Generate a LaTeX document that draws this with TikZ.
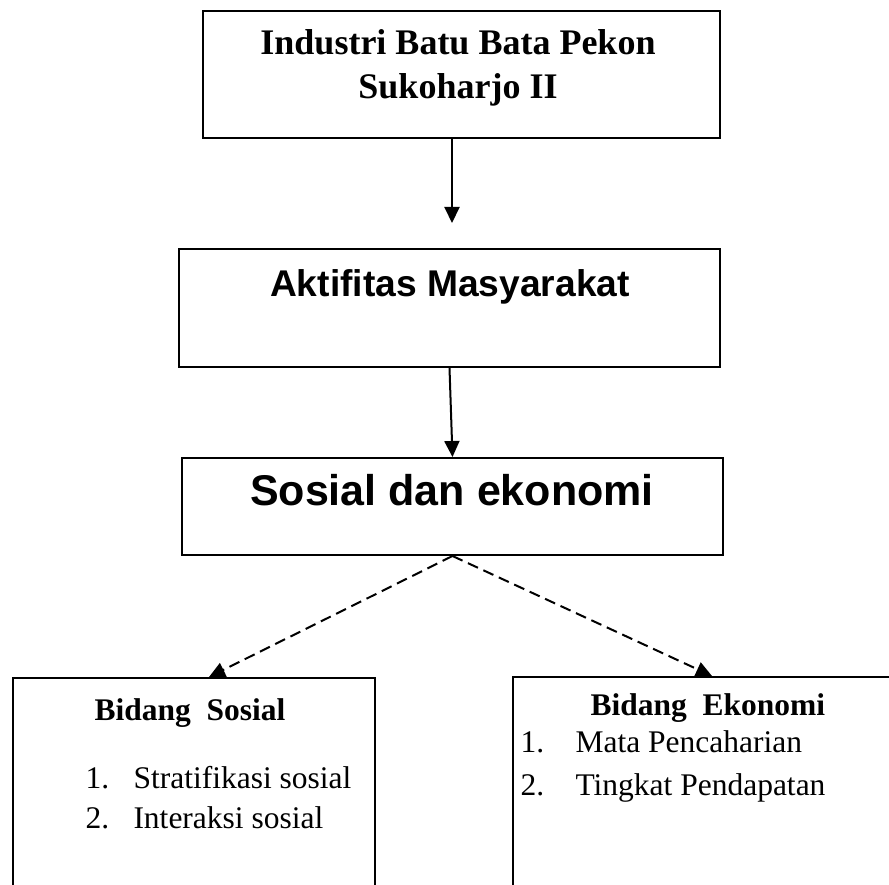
\documentclass[tikz,border=0pt]{standalone}
\usepackage{fontspec}
\setmainfont{Liberation Serif}
\newfontfamily\arialfont{Liberation Sans}
\usetikzlibrary{arrows.meta}

\tikzset{
  box/.style={draw, line width=2pt, inner sep=0pt},
  flow/.style={line width=2pt, -{Triangle[width=15pt,length=16pt]}},
  split/.style={flow, dash pattern=on 11pt off 6pt}
}

\begin{document}
\begin{tikzpicture}[x=1pt,y=-1pt]
\useasboundingbox (0,0) rectangle (889,885);
\clip (0,0) rectangle (889,885);

\node[box, minimum width=517pt, minimum height=127pt] (industry) at (461.5,74.5) {};
\node[box, minimum width=541pt, minimum height=118pt] (activity) at (449.5,308) {};
\node[box, minimum width=541pt, minimum height=97pt] (socioeco) at (452.5,506.5) {};
\node[box, minimum width=362pt, minimum height=242pt] (social) at (194,799) {};
\node[box, minimum width=398pt, minimum height=243pt] (economy) at (712,798.5) {};

% titles
\node[anchor=base, font=\fontsize{36}{42}\selectfont\bfseries] (industryA) at (458,55) {Industri Batu Bata Pekon};
\node[anchor=base, font=\fontsize{36}{42}\selectfont\bfseries] (industryB) at (458,99) {Sukoharjo II};
\node[anchor=base, font=\arialfont\fontsize{37.2}{42}\selectfont\bfseries] (activityT) at (450,297) {Aktifitas Masyarakat};
\node[anchor=base, font=\arialfont\fontsize{43}{48}\selectfont\bfseries] (socioecoT) at (452,505) {Sosial dan ekonomi};

% lists
\node[anchor=base west, font=\fontsize{31.5}{36}\selectfont\bfseries] (socialT) at (91,720) {Bidang\ \ Sosial};
\node[anchor=base west, font=\fontsize{31.5}{36}\selectfont] (socialA) at (82,788) {\makebox[48pt][l]{1.}Stratifikasi sosial};
\node[anchor=base west, font=\fontsize{31.5}{36}\selectfont] (socialB) at (82,828) {\makebox[48pt][l]{2.}Interaksi sosial};
\node[anchor=base west, font=\fontsize{31.5}{36}\selectfont\bfseries] (economyT) at (587,715) {Bidang\ \ Ekonomi};
\node[anchor=base west, font=\fontsize{31.5}{36}\selectfont] (economyA) at (517,752) {\makebox[55pt][l]{1.}Mata Pencaharian};
\node[anchor=base west, font=\fontsize{31.5}{36}\selectfont] (economyB) at (517,795) {\makebox[55pt][l]{2.}Tingkat Pendapatan};

% connectors
\draw[flow, shorten >=25pt] ([xshift=-9.5pt]industry.south) -- ([xshift=-9.5pt]industry.south |- activity.north);
\draw[flow] (activity.south) -- (socioeco.north);
\draw[split] (socioeco.south) -- ([xshift=15pt]social.north);
\draw[split] (socioeco.south) -- (economy.north);
\end{tikzpicture}
\end{document}
